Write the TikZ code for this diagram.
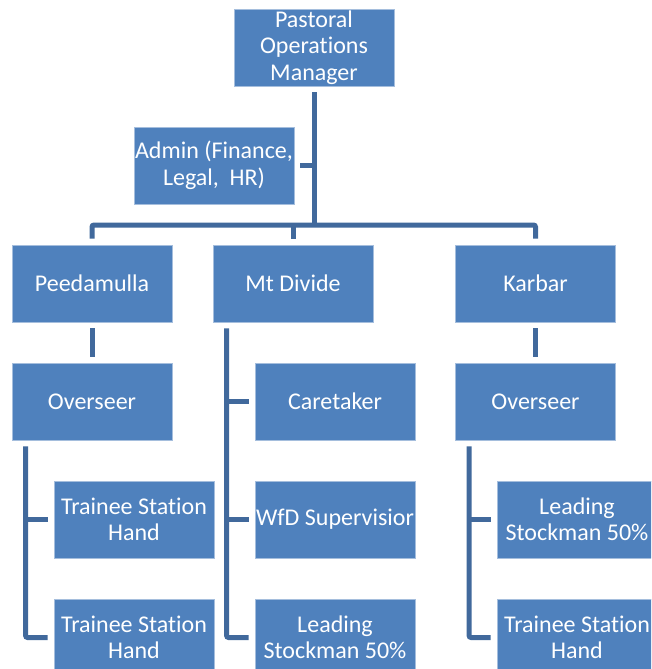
\documentclass[tikz,border=0pt]{standalone}
\usepackage{fontspec}
\setmainfont[RawFeature={-liga;-clig;-dlig;-calt}]{Carlito}
\definecolor{boxblue}{HTML}{4F81BD}
\definecolor{lineblue}{HTML}{41699C}
\definecolor{edgeblue}{HTML}{A5BEDD}
\begin{document}
\begin{tikzpicture}[x=1pt,y=-1pt,
  orgbox/.style={draw=edgeblue, line width=0.8pt, fill=boxblue, text=white,
    minimum width=160pt, minimum height=77pt, inner sep=0pt, align=center,
    font=\fontsize{24}{26.5}\selectfont},
  conn/.style={draw=lineblue, line width=5pt, rounded corners=2pt}]
\useasboundingbox (0,0) rectangle (651,669);
\clip (0,0) rectangle (651,669);
\fill[white] (0,0) rectangle (651,669);

\node[orgbox] (pom) at (314,47.5) {Pastoral\\Operations\\Manager};
\node[orgbox] (adm) at (214,165.5) {Admin (Finance,\\Legal,~~HR)};
\node[orgbox] (pee) at (92,283.5) {Peedamulla};
\node[orgbox] (mtd) at (293,283.5) {Mt Divide};
\node[orgbox] (kar) at (535.5,283.5) {Karbar};
\node[orgbox] (ovl) at (92,401.5) {Overseer};
\node[orgbox] (care) at (335,401.5) {Caretaker};
\node[orgbox] (ovr) at (535.5,401.5) {Overseer};
\node[orgbox] (tsh1) at (134,519.5) {Trainee Station\\Hand};
\node[orgbox] (wfd) at (335,519.5) {WfD Supervisior};
\node[orgbox] (ls1) at (577,519.5) {Leading\\Stockman 50\%};
\node[orgbox] (tsh2) at (134,637.5) {Trainee Station\\Hand};
\node[orgbox] (ls2) at (335,637.5) {Leading\\Stockman 50\%};
\node[orgbox] (tsh3) at (577,637.5) {Trainee Station\\Hand};

% top level
\coordinate (bar) at (314,225);
\draw[conn] ([yshift=-6pt]pom.south) -- (bar);
\draw[conn] ([xshift=6pt]adm.east) -- (adm.east -| bar);
\draw[conn] ([yshift=6pt]pee.north) |- (bar) -| ([yshift=6pt]kar.north);
\draw[conn] ([yshift=6pt]mtd.north) -- (mtd.north |- bar);

% stations to overseers
\draw[conn] ([yshift=-6pt]pee.south) -- ([yshift=6pt]ovl.north);
\draw[conn] ([yshift=-6pt]kar.south) -- ([yshift=6pt]ovr.north);

% left tree
\coordinate (lt) at ([xshift=14pt,yshift=-6pt]ovl.south west);
\draw[conn] (lt) |- ([xshift=-6pt]tsh2.west);
\draw[conn] (lt |- tsh1.west) -- ([xshift=-6pt]tsh1.west);

% middle tree
\coordinate (mt) at ([xshift=14pt,yshift=-6pt]mtd.south west);
\draw[conn] (mt) |- ([xshift=-6pt]ls2.west);
\draw[conn] (mt |- care.west) -- ([xshift=-6pt]care.west);
\draw[conn] (mt |- wfd.west) -- ([xshift=-6pt]wfd.west);

% right tree
\coordinate (rt) at ([xshift=14pt,yshift=-6pt]ovr.south west);
\draw[conn] (rt) |- ([xshift=-6pt]tsh3.west);
\draw[conn] (rt |- ls1.west) -- ([xshift=-6pt]ls1.west);
\end{tikzpicture}
\end{document}
